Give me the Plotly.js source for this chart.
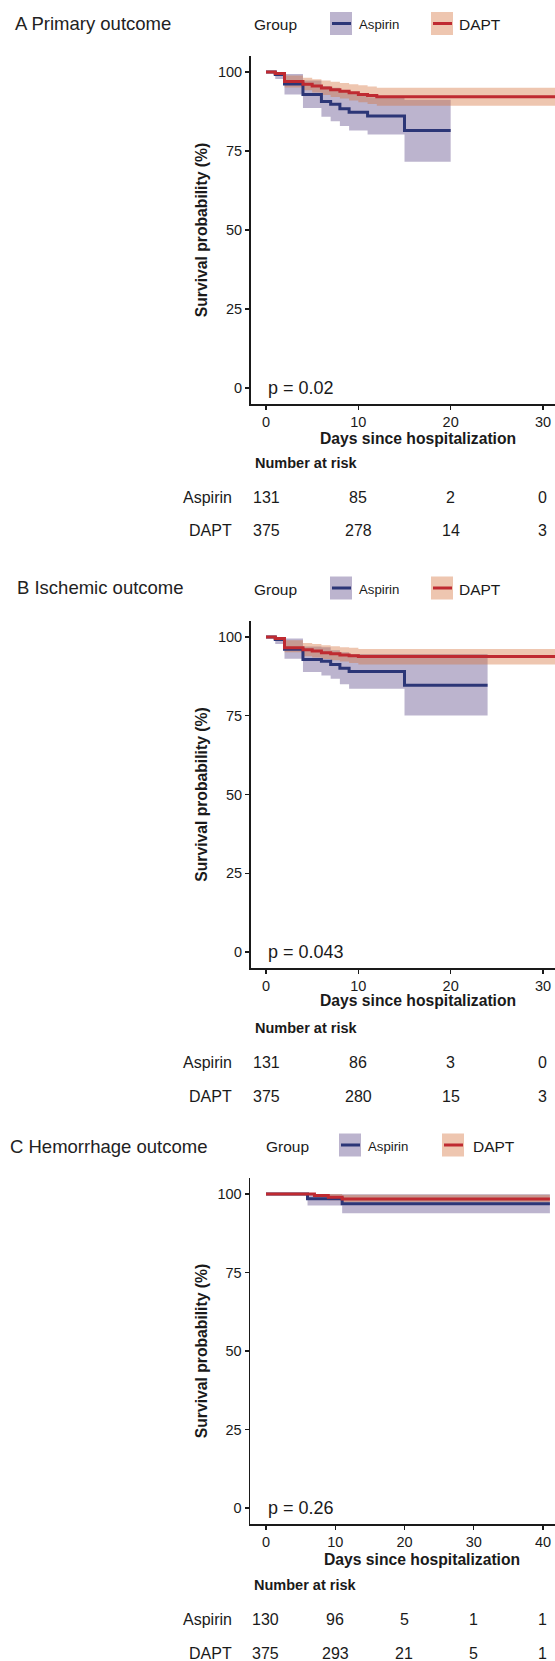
<!DOCTYPE html>
<html>
<head>
<meta charset="utf-8">
<script src="https://cdn.plot.ly/plotly-3.0.1.min.js"></script>
<style>
  html, body { margin: 0; padding: 0; background: #ffffff; }
  #wrap { width: 555px; height: 1661px; overflow: hidden; position: relative; }
  #plot { width: 600px; height: 1661px; }
</style>
</head>
<body>
<div id="wrap"><div id="plot"></div></div>
<script>
// ---------------- DATA ----------------
const groupNames = ['Aspirin', 'DAPT'];
const panelTitles = ['A Primary outcome', 'B Ischemic outcome', 'C Hemorrhage outcome'];
const pValues = ['p = 0.02', 'p = 0.043', 'p = 0.26'];
const xTitle = 'Days since hospitalization';
const yTitle = 'Survival probability (%)';

// Panel A: primary outcome (time in days, survival %)
const aAspT  = [0, 1, 2, 4, 6, 7, 8, 9, 11, 15, 20];
const aAspS  = [100, 99.2, 96.2, 92.9, 90.7, 89.8, 88.4, 87.3, 86.1, 81.5, 81.5];
const aAspLo = [100, 97.8, 92.9, 88.6, 85.8, 84.4, 82.9, 81.5, 80.2, 71.6, 71.6];
const aAspHi = [100, 100, 99.4, 97.3, 95.6, 95.0, 94.0, 93.2, 92.0, 91.2, 91.2];
const aDapT  = [0, 1, 2, 4, 5, 6, 7, 8, 9, 10, 11, 12, 33];
const aDapS  = [100, 99.5, 97.0, 96.1, 95.6, 94.9, 94.4, 93.9, 93.4, 92.9, 92.6, 92.2, 92.2];
const aDapLo = [100, 98.8, 95.1, 94.2, 93.5, 92.7, 92.1, 91.6, 91.0, 90.4, 89.9, 89.3, 89.3];
const aDapHi = [100, 100, 98.9, 98.2, 97.7, 97.3, 96.9, 96.5, 96.1, 95.8, 95.4, 95.0, 95.0];

// Panel B: ischemic outcome
const bAspT  = [0, 1, 2, 4, 6, 7, 8, 9, 15, 24];
const bAspS  = [100, 99.2, 96.1, 92.9, 92.3, 91.3, 90.1, 89.1, 84.7, 84.7];
const bAspLo = [100, 97.8, 93.1, 88.9, 87.8, 86.8, 85.0, 83.6, 75.1, 75.1];
const bAspHi = [100, 100, 99.5, 97.0, 96.8, 95.8, 95.2, 94.6, 94.6, 94.6];
const bDapT  = [0, 1, 2, 4, 5, 6, 7, 8, 9, 10, 33];
const bDapS  = [100, 99.5, 96.6, 96.0, 95.6, 95.0, 94.7, 94.3, 94.1, 93.8, 93.8];
const bDapLo = [100, 98.8, 95.2, 93.9, 93.5, 93.0, 92.6, 92.2, 91.8, 91.3, 91.3];
const bDapHi = [100, 100, 99.0, 98.1, 97.8, 97.4, 97.1, 96.8, 96.6, 96.2, 96.2];

// Panel C: hemorrhage outcome
const cAspT  = [0, 6, 11, 41];
const cAspS  = [100, 98.5, 96.9, 96.9];
const cAspLo = [100, 96.3, 93.9, 93.9];
const cAspHi = [100, 100, 99.9, 99.9];
const cDapT  = [0, 7, 9, 11, 41];
const cDapS  = [100, 99.5, 99.0, 98.4, 98.4];
const cDapLo = [100, 98.8, 98.0, 97.4, 97.4];
const cDapHi = [100, 100, 100, 99.8, 99.8];

// Number at risk tables
const riskTimesAB = [0, 10, 20, 30];
const riskTimesC  = [0, 10, 20, 30, 40];
const riskAspA = [131, 85, 2, 0];
const riskDapA = [375, 278, 14, 3];
const riskAspB = [131, 86, 3, 0];
const riskDapB = [375, 280, 15, 3];
const riskAspC = [130, 96, 5, 1, 1];
const riskDapC = [375, 293, 21, 5, 1];

const yTicks = [0, 25, 50, 75, 100];

// ---------------- STYLE / GEOMETRY ----------------
const W = 600, H = 1661;
const FONT = 'Liberation Sans, Arial, Helvetica, sans-serif';
const TXT = '#1a1a1a';
const aspLine = '#2c3677';
const dapLine = '#bf2a31';
const aspFill = 'rgba(58,36,112,0.34)';
const dapFill = 'rgba(212,112,58,0.40)';
const px = x => x / W;
const py = y => 1 - y / H;

const geo = [
  { title: [13, 23], yTop: 56.2, yBot: 403.8, xL: 250.8, xR: 585.9, xr: [-1.65, 34.65], xtY: 438.5,
    leg: { y: 23.5, group: 252, aspBox: 330, aspTxt: 357, dapBox: 431, dapTxt: 457 },
    risk: [463, 497, 531] },
  { title: [15, 587], yTop: 621.3, yBot: 967.8, xL: 250.8, xR: 585.9, xr: [-1.65, 34.65], xtY: 1000.5,
    leg: { y: 588, group: 252, aspBox: 330, aspTxt: 357, dapBox: 431, dapTxt: 457 },
    risk: [1028, 1062, 1096] },
  { title: [8, 1146], yTop: 1178.3, yBot: 1523.7, xL: 250.4, xR: 593.2, xr: [-2.25, 47.25], xtY: 1559,
    leg: { y: 1145, group: 264, aspBox: 339, aspTxt: 366, dapBox: 442, dapTxt: 471 },
    risk: [1585, 1619, 1653] }
];

const panelData = [
  { asp: [aAspT, aAspS, aAspLo, aAspHi], dap: [aDapT, aDapS, aDapLo, aDapHi],
    riskT: riskTimesAB, riskAsp: riskAspA, riskDap: riskDapA },
  { asp: [bAspT, bAspS, bAspLo, bAspHi], dap: [bDapT, bDapS, bDapLo, bDapHi],
    riskT: riskTimesAB, riskAsp: riskAspB, riskDap: riskDapB },
  { asp: [cAspT, cAspS, cAspLo, cAspHi], dap: [cDapT, cDapS, cDapLo, cDapHi],
    riskT: riskTimesC, riskAsp: riskAspC, riskDap: riskDapC }
];

const traces = [];
const annotations = [];
const shapes = [];
const layout = {
  width: W, height: H, autosize: false,
  margin: { l: 0, r: 0, t: 0, b: 0, pad: 0 },
  paper_bgcolor: '#ffffff', plot_bgcolor: '#ffffff',
  showlegend: false,
  font: { family: FONT, color: TXT, size: 14.5 }
};

panelData.forEach((pd, i) => {
  const g = geo[i];
  const n = i === 0 ? '' : String(i + 1);
  const xa = 'x' + n, ya = 'y' + n;

  layout['xaxis' + n] = {
    domain: [px(g.xL), px(g.xR)], anchor: ya, range: g.xr,
    tickvals: pd.riskT, ticktext: pd.riskT.map(String),
    showgrid: false, zeroline: false, showline: true, linecolor: TXT, linewidth: 1.8,
    ticks: 'outside', ticklen: 4, tickwidth: 1.3, tickcolor: TXT, ticklabelstandoff: 0,
    tickfont: { family: FONT, size: 14.5, color: TXT },
    automargin: false, fixedrange: true
  };
  layout['yaxis' + n] = {
    domain: [py(g.yBot), py(g.yTop)], anchor: xa, range: [-5, 105],
    tickvals: yTicks, ticktext: yTicks.map(String),
    showgrid: false, zeroline: false, showline: true, linecolor: TXT, linewidth: 1.8,
    ticks: 'outside', ticklen: 4, tickwidth: 1.3, tickcolor: TXT,
    tickfont: { family: FONT, size: 14.5, color: TXT },
    title: { text: yTitle, standoff: 6,
             font: { family: FONT, size: 15.7, color: TXT, weight: 'bold' } },
    automargin: true, fixedrange: true
  };

  const [aT, aS, aLo, aHi] = pd.asp;
  const [dT, dS, dLo, dHi] = pd.dap;
  const base = { type: 'scatter', mode: 'lines', xaxis: xa, yaxis: ya, hoverinfo: 'skip', showlegend: false };
  // confidence bands
  traces.push(Object.assign({}, base, { x: aT, y: aLo, line: { shape: 'hv', width: 0, color: 'rgba(0,0,0,0)' } }));
  traces.push(Object.assign({}, base, { x: aT, y: aHi, fill: 'tonexty', fillcolor: aspFill, line: { shape: 'hv', width: 0, color: 'rgba(0,0,0,0)' } }));
  traces.push(Object.assign({}, base, { x: dT, y: dLo, line: { shape: 'hv', width: 0, color: 'rgba(0,0,0,0)' } }));
  traces.push(Object.assign({}, base, { x: dT, y: dHi, fill: 'tonexty', fillcolor: dapFill, line: { shape: 'hv', width: 0, color: 'rgba(0,0,0,0)' } }));
  // survival curves
  traces.push(Object.assign({}, base, { name: groupNames[0], x: aT, y: aS, line: { shape: 'hv', width: 3, color: aspLine } }));
  traces.push(Object.assign({}, base, { name: groupNames[1], x: dT, y: dS, line: { shape: 'hv', width: 3, color: dapLine } }));

  // x axis title (centred on the panel)
  annotations.push({ xref: 'paper', yref: 'paper', x: px((g.xL + g.xR) / 2), y: py(g.xtY),
    xanchor: 'center', yanchor: 'middle', showarrow: false, text: xTitle,
    font: { family: FONT, size: 15.7, color: TXT, weight: 'bold' } });

  // panel title
  annotations.push({ xref: 'paper', yref: 'paper', x: px(g.title[0]), y: py(g.title[1]),
    xanchor: 'left', yanchor: 'middle', showarrow: false, text: panelTitles[i],
    font: { family: FONT, size: 18.5, color: '#222' } });

  // legend
  const L = g.leg;
  const ty = L.y + 1.5;
  annotations.push({ xref: 'paper', yref: 'paper', x: px(L.group), y: py(ty),
    xanchor: 'left', yanchor: 'middle', showarrow: false, text: 'Group',
    font: { family: FONT, size: 15.5, color: TXT } });
  annotations.push({ xref: 'paper', yref: 'paper', x: px(L.aspTxt), y: py(ty - 0.5),
    xanchor: 'left', yanchor: 'middle', showarrow: false, text: groupNames[0],
    font: { family: FONT, size: 13.2, color: TXT } });
  annotations.push({ xref: 'paper', yref: 'paper', x: px(L.dapTxt), y: py(ty),
    xanchor: 'left', yanchor: 'middle', showarrow: false, text: groupNames[1],
    font: { family: FONT, size: 15.5, color: TXT } });
  [[L.aspBox, aspFill, aspLine], [L.dapBox, dapFill, dapLine]].forEach(([bx, fc, lc]) => {
    shapes.push({ type: 'rect', xref: 'paper', yref: 'paper', layer: 'above',
      x0: px(bx), x1: px(bx + 22), y0: py(L.y + 11.5), y1: py(L.y - 11.5),
      fillcolor: fc, line: { width: 0 } });
    shapes.push({ type: 'line', xref: 'paper', yref: 'paper', layer: 'above',
      x0: px(bx + 2), x1: px(bx + 21), y0: py(L.y), y1: py(L.y),
      line: { color: lc, width: 3 } });
  });

  // p-value
  annotations.push({ xref: xa, yref: ya, x: 0, y: 0, xanchor: 'left', yanchor: 'middle',
    showarrow: false, text: pValues[i], font: { family: FONT, size: 18, color: TXT } });

  // risk table
  annotations.push({ xref: 'paper', yref: 'paper', x: px(g.xL + 2), y: py(g.risk[0]),
    xanchor: 'left', yanchor: 'middle', showarrow: false, text: 'Number at risk',
    font: { family: FONT, size: 14.5, color: TXT, weight: 'bold' } });
  [[groupNames[0], pd.riskAsp, g.risk[1]], [groupNames[1], pd.riskDap, g.risk[2]]].forEach(([nm, vals, yy]) => {
    annotations.push({ xref: 'paper', yref: 'paper', x: px(234), y: py(yy),
      xanchor: 'right', yanchor: 'middle', showarrow: false, text: nm,
      font: { family: FONT, size: 16, color: TXT } });
    vals.forEach((v, k) => {
      annotations.push({ xref: xa, yref: 'paper', x: pd.riskT[k], y: py(yy),
        xanchor: 'center', yanchor: 'middle', showarrow: false, text: String(v),
        font: { family: FONT, size: 16, color: TXT } });
    });
  });
});

layout.annotations = annotations;
layout.shapes = shapes;

Plotly.newPlot('plot', traces, layout, { displayModeBar: false, staticPlot: true });
</script>
</body>
</html>
